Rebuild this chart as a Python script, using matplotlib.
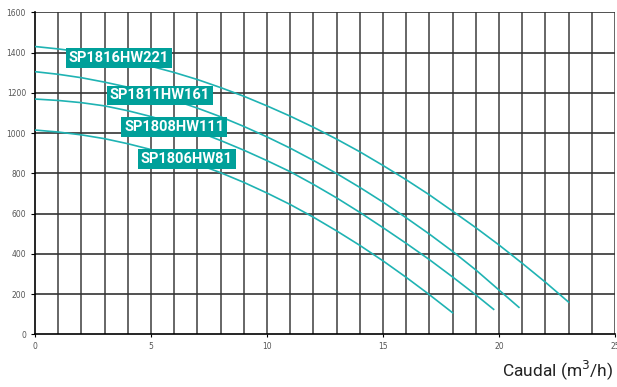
import matplotlib
matplotlib.use("Agg")
import matplotlib.pyplot as plt

# pump curves (flow m3/h vs head)
flow = list(range(0, 24))

x_221 = flow[:24]
y_221 = [1430, 1418, 1403, 1383, 1360, 1332, 1301, 1266, 1226, 1183, 1135, 1084,
         1029, 970, 907, 839, 768, 693, 612, 530, 444, 353, 259, 160]

x_161 = flow[:21] + [20.86]
y_161 = [1305, 1292, 1275, 1253, 1228, 1197, 1163, 1124, 1081, 1033, 981, 925,
         864, 799, 730, 657, 579, 498, 412, 320, 220, 134]

x_111 = flow[:20] + [19.77]
y_111 = [1169, 1162, 1151, 1135, 1111, 1082, 1048, 1008, 963, 915, 863, 808,
         745, 678, 606, 530, 452, 371, 285, 196, 124]

x_81 = flow[:19]
y_81 = [1015, 1005, 991, 972, 947, 918, 884, 846, 803, 755, 702, 645,
        582, 514, 442, 365, 283, 197, 107]

models = ["SP1816HW221", "SP1811HW161", "SP1808HW111", "SP1806HW81"]
label_pos = [(3.62, 1375), (5.39, 1187), (6.0, 1028), (6.54, 870)]

LINE = "#1fb3b3"
BOX = "#00a09a"

fig = plt.figure(figsize=(6.17, 3.87), dpi=100)
ax = fig.add_axes([0.0567, 0.1362, 0.94, 0.832])

for xs, ys in [(x_221, y_221), (x_161, y_161), (x_111, y_111), (x_81, y_81)]:
    ax.plot(xs, ys, color=LINE, lw=1.2, zorder=3)

for name, (lx, ly) in zip(models, label_pos):
    ax.text(lx, ly, name, color="white", fontsize=10.5, fontweight="bold",
            family="Roboto", ha="center", va="center", zorder=5,
            bbox=dict(boxstyle="square,pad=0.2", fc=BOX, ec="none"))

ax.set_xlim(0, 25)
ax.set_ylim(0, 1600)
ax.set_xticks(range(0, 26, 5))
ax.set_yticks(range(0, 1601, 200))
ax.tick_params(axis="both", which="major", labelsize=5.5, labelcolor="#555555",
               length=3, width=0.8, direction="out")
ax.tick_params(axis="x", which="major", length=2)
# dense flow grid, one line per m3/h
for v in range(1, 26):
    ax.axvline(v, color="#5a5a5a", lw=1.3, zorder=1)
for h in range(200, 1601, 200):
    ax.axhline(h, color="#333333", lw=1.2, zorder=1)
for s in ["top", "right"]:
    ax.spines[s].set_visible(False)
ax.spines["left"].set_linewidth(1.2)
ax.spines["bottom"].set_linewidth(1.2)

fig.text(0.994, 0.012, "Caudal (m$^3$/h)", ha="right", va="bottom",
         fontsize=12.5, family="Roboto", color="#222222")

fig.savefig("out.png", dpi=100)
